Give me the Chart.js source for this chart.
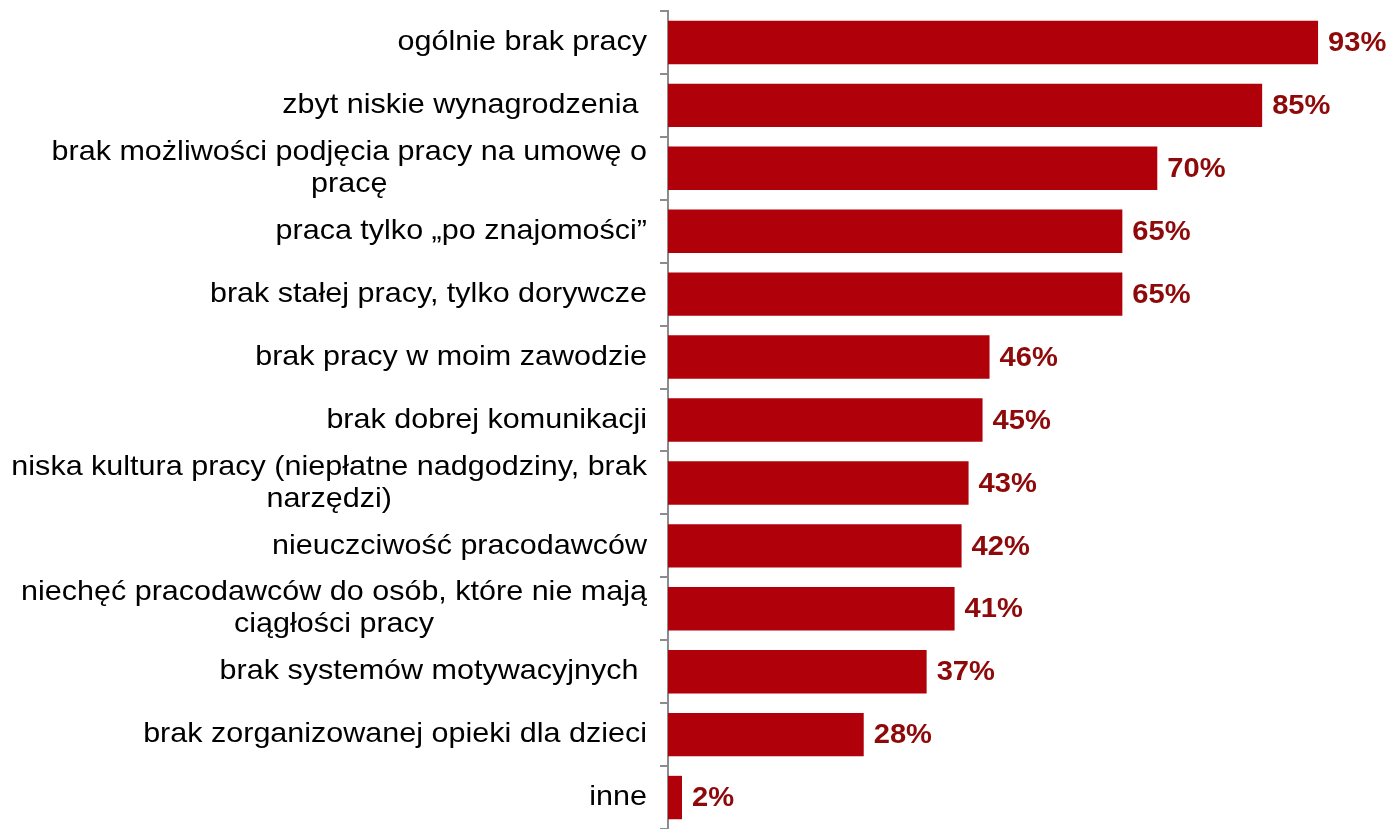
<!DOCTYPE html>
<html>
<head>
<meta charset="utf-8">
<script src="https://cdn.jsdelivr.net/npm/chart.js@4/dist/chart.umd.min.js"></script>
<style>
  html, body { margin: 0; padding: 0; background: #fff; }
  #wrap { width: 1391px; height: 829px; position: relative; }
</style>
</head>
<body>
<div id="wrap"><canvas id="c"></canvas></div>
<script>
// ── Data ──────────────────────────────────────────────
const CATEGORIES = [
  ['ogólnie brak pracy'],
  ['zbyt niskie wynagrodzenia '],
  ['brak możliwości podjęcia pracy na umowę o', 'pracę'],
  ['praca tylko „po znajomości”'],
  ['brak stałej pracy, tylko dorywcze'],
  ['brak pracy w moim zawodzie'],
  ['brak dobrej komunikacji'],
  ['niska kultura pracy (niepłatne nadgodziny, brak', 'narzędzi)'],
  ['nieuczciwość pracodawców'],
  ['niechęć pracodawców do osób, które nie mają', 'ciągłości pracy'],
  ['brak systemów motywacyjnych '],
  ['brak zorganizowanej opieki dla dzieci'],
  ['inne'],
];
const VALUES = [93, 85, 70, 65, 65, 46, 45, 43, 42, 41, 37, 28, 2];

const BAR_COLOR   = '#B0000A';
const LABEL_COLOR = '#8E0A0A';
const FONT        = '"Liberation Sans", Arial, sans-serif';
const AXIS_LEFT   = 668;
const STRETCH     = 1.09; // source text is a bit wider than Arial

// ── Plugins ───────────────────────────────────────────
// category labels: right-aligned block, multi-line centred inside it
const _catLabels = {
  id: 'catLabels',
  afterDraw(chart) {
    const { ctx, scales: { y } } = chart;
    const right = y.right - 21;
    const lh = 32;
    ctx.save();
    ctx.font = `28px ${FONT}`;
    ctx.fillStyle = '#000';
    ctx.textAlign = 'center';
    ctx.textBaseline = 'middle';
    CATEGORIES.forEach((lines, i) => {
      const w = Math.max(...lines.map(l => ctx.measureText(l).width)) * STRETCH;
      const cx = right - w / 2;
      const cy = y.getPixelForValue(i);
      const y0 = cy - (lines.length - 1) * lh / 2;
      lines.forEach((l, k) => {
        ctx.save();
        ctx.translate(cx, y0 + k * lh);
        ctx.scale(STRETCH, 1);
        ctx.fillText(l, 0, 0);
        ctx.restore();
      });
    });
    ctx.restore();
  },
};

const _valueLabels = {
  id: 'valueLabels',
  afterDatasetsDraw(chart) {
    const { ctx } = chart;
    const meta = chart.getDatasetMeta(0);
    ctx.save();
    ctx.font = `bold 28px ${FONT}`;
    ctx.fillStyle = LABEL_COLOR;
    ctx.textAlign = 'left';
    ctx.textBaseline = 'middle';
    meta.data.forEach((bar, i) => {
      ctx.save();
      ctx.translate(bar.x + 10, bar.y + 1);
      ctx.scale(1.04, 1);
      ctx.fillText(VALUES[i] + '%', 0, 0);
      ctx.restore();
    });
    ctx.restore();
  },
};

// ── Chart ─────────────────────────────────────────────
new Chart(document.getElementById('c'), {
  type: 'bar',
  data: {
    labels: CATEGORIES,
    datasets: [{
      data: VALUES,
      backgroundColor: BAR_COLOR,
      borderWidth: 0,
      categoryPercentage: 1,
      barPercentage: 0.69,
    }],
  },
  options: {
    indexAxis: 'y',
    responsive: true,
    maintainAspectRatio: false,
    animation: false,
    layout: { padding: { top: 11, right: 24, bottom: 0, left: 0 } },
    scales: {
      x: {
        display: false,
        min: 0,
        max: 100,
      },
      y: {
        offset: true,
        ticks: { display: false },
        border: { display: true, color: '#8c8c8c', width: 2 },
        grid: {
          offset: true,
          drawOnChartArea: false,
          drawTicks: true,
          tickLength: 8,
          color: '#8c8c8c',
          lineWidth: 2,
        },
        afterFit(scale) { scale.width = AXIS_LEFT; },
      },
    },
    plugins: {
      legend: { display: false },
      tooltip: { enabled: false },
    },
  },
  plugins: [_catLabels, _valueLabels],
});
</script>
</body>
</html>
